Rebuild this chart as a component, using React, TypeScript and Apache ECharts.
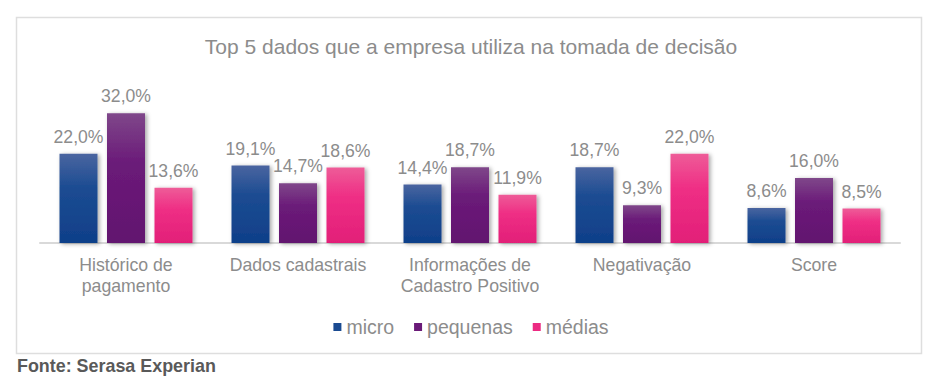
import React, { useEffect, useRef } from "react";
import * as echarts from "echarts";

const categories = [
  "Histórico de\npagamento",
  "Dados cadastrais",
  "Informações de\nCadastro Positivo",
  "Negativação",
  "Score",
];
const seriesNames = ["micro", "pequenas", "médias"];
const microValues = [22.0, 19.1, 14.4, 18.7, 8.6];
const pequenasValues = [32.0, 14.7, 18.7, 9.3, 16.0];
const mediasValues = [13.6, 18.6, 11.9, 22.0, 8.5];
const titleText = "Top 5 dados que a empresa utiliza na tomada de decisão";
const sourceText = "Fonte: Serasa Experian";

const FONT = "'Liberation Sans', Arial, Helvetica, sans-serif";
const TEXT_GRAY = "#8c8c8c";

const grad = (top: string, mid: string, bottom: string) =>
  new echarts.graphic.LinearGradient(0, 0, 0, 1, [
    { offset: 0, color: top },
    { offset: 0.38, color: mid },
    { offset: 1, color: bottom },
  ]);

const palettes = [
  { solid: "#1a4a91", fill: () => grad("#4a65a0", "#1c4c92", "#0f3f89") },
  { solid: "#6a1a78", fill: () => grad("#7f478a", "#6b1b79", "#62136f") },
  { solid: "#ec2a82", fill: () => grad("#ee5c98", "#ef2f85", "#e21f78") },
];

export default function App() {
  const ref = useRef<HTMLDivElement>(null);

  useEffect(() => {
    document.body.style.margin = "0";
    if (!ref.current) return;
    const chart = echarts.init(ref.current, undefined, { renderer: "svg" });
    const values = [microValues, pequenasValues, mediasValues];

    chart.setOption({
      animation: false,
      backgroundColor: "#ffffff",
      title: {
        text: titleText,
        left: "center",
        top: 31,
        textStyle: {
          fontFamily: FONT,
          fontSize: 21,
          fontWeight: "normal",
          color: TEXT_GRAY,
        },
      },
      legend: {
        left: "center",
        top: 312,
        itemWidth: 8,
        itemHeight: 8,
        itemGap: 20,
        icon: "rect",
        textStyle: { fontFamily: FONT, fontSize: 19.5, color: TEXT_GRAY },
        data: seriesNames.map((n, i) => ({
          name: n,
          itemStyle: { color: palettes[i].solid },
        })),
      },
      grid: { left: 40, right: 42, top: 101, bottom: 144, containLabel: false },
      xAxis: {
        type: "category",
        data: categories,
        axisLine: { lineStyle: { color: "#d9d9d9", width: 2 } },
        axisTick: { show: false },
        axisLabel: {
          fontFamily: FONT,
          fontSize: 17.7,
          color: TEXT_GRAY,
          lineHeight: 21,
          margin: 11,
          interval: 0,
        },
      },
      yAxis: {
        type: "value",
        min: 0,
        max: 35,
        show: false,
        splitLine: { show: false },
      },
      graphic: [
        {
          type: "rect",
          shape: { x: 16.5, y: 17.5, width: 905, height: 336 },
          style: { fill: "none", stroke: "#dedede", lineWidth: 1.5 },
          silent: true,
          z: -1,
        },
        {
          type: "text",
          left: 17,
          top: 357,
          style: {
            text: sourceText,
            fontFamily: FONT,
            fontSize: 17.9,
            fontWeight: "bold",
            fill: "#595959",
          },
        },
      ],
      series: seriesNames.map((name, i) => ({
        name,
        type: "bar",
        data: values[i],
        barWidth: 38,
        barGap: "25%",
        itemStyle: {
          color: palettes[i].fill(),
          shadowColor: "rgba(0,0,0,0.35)",
          shadowBlur: 4,
          shadowOffsetX: 2,
          shadowOffsetY: 1,
        },
        label: {
          show: true,
          position: "top",
          distance: 8,
          fontFamily: FONT,
          fontSize: 17.6,
          color: TEXT_GRAY,
          formatter: (p: any) => p.value.toFixed(1).replace(".", ",") + "%",
        },
      })),
    });

    return () => chart.dispose();
  }, []);

  return <div ref={ref} style={{ width: 942, height: 387 }} />;
}
